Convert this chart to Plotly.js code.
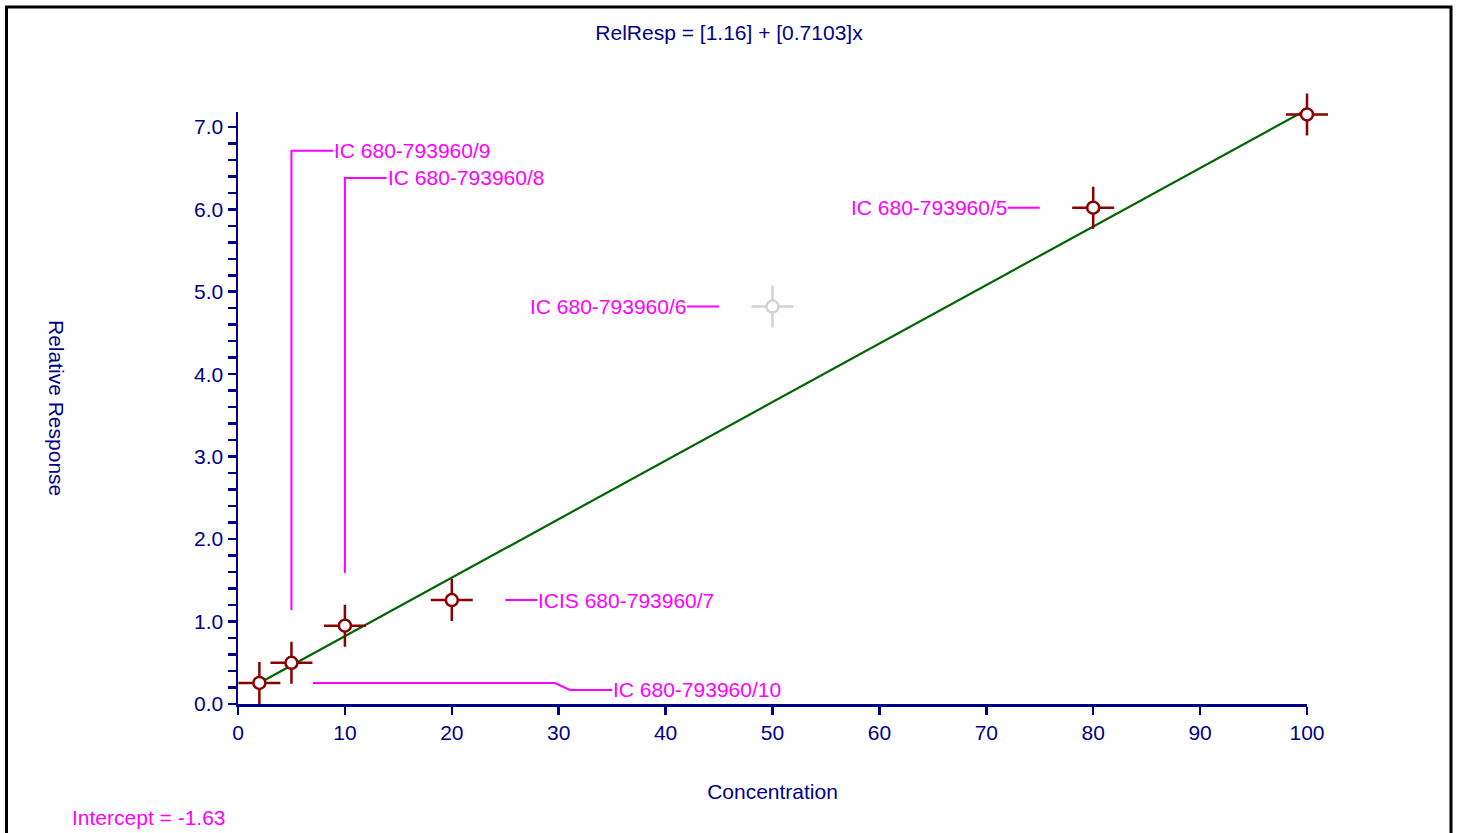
<!DOCTYPE html>
<html>
<head>
<meta charset="utf-8">
<script src="https://cdn.plot.ly/plotly-3.0.1.min.js"></script>
<style>
  html, body { margin: 0; padding: 0; background: #ffffff; }
  #chart { width: 1457px; height: 833px; }
</style>
</head>
<body>
<div id="chart"></div>
<script>
// ---- data ----
const concIncluded = [2, 5, 10, 20, 80, 100];
const respIncluded = [0.255, 0.50, 0.95, 1.26, 6.02, 7.15];
const concExcluded = [50];
const respExcluded = [4.82];

const fitX = [2, 100];
const fitY = [0.255, 7.21];

const labelTexts = ["IC 680-793960/9", "IC 680-793960/8", "IC 680-793960/5",
                    "IC 680-793960/6", "ICIS 680-793960/7", "IC 680-793960/10"];
const labelX = [8.9, 13.9, 72.0, 42.0, 28.0, 35.0];
const labelY = [6.71, 6.38, 6.02, 4.82, 1.26, 0.17];
const labelAnchor = ["left", "left", "right", "right", "left", "left"];

const leaderX = [[5, 5, 8.9], [10, 10, 13.9], [72, 75], [42, 45], [25, 28], [7, 29.65, 31.06, 35]];
const leaderY = [[1.14, 6.71, 6.71], [1.59, 6.38, 6.38], [6.02, 6.02], [4.82, 4.82], [1.26, 1.26], [0.255, 0.255, 0.17, 0.17]];

const titleText = "RelResp = [1.16] + [0.7103]x";
const xTitle = "Concentration";
const yTitle = "Relative Response";
const interceptText = "Intercept = -1.63";

// ---- styles ----
const NAVY = "#00008b";
const MAG = "#ff00ff";
const RED = "#8b0000";
const GREY = "#d3d3d3";
const FONT = "Liberation Sans, Arial, sans-serif";
const FS = 21;

const traces = [];

leaderX.forEach((xs, i) => {
  traces.push({
    x: xs, y: leaderY[i], type: "scatter", mode: "lines",
    line: { color: MAG, width: 2 }, hoverinfo: "skip", showlegend: false
  });
});

traces.push({
  x: fitX, y: fitY, type: "scatter", mode: "lines",
  line: { color: "#006400", width: 2.2 }, hoverinfo: "skip", showlegend: false
});

function crossTrace(xs, ys, color) {
  return {
    x: xs, y: ys, type: "scatter", mode: "markers",
    marker: { symbol: "cross-thin", size: 30, color: color, line: { color: color, width: 2.5 } },
    showlegend: false, cliponaxis: false, hoverinfo: "skip"
  };
}
function circleTrace(xs, ys, color) {
  return {
    x: xs, y: ys, type: "scatter", mode: "markers",
    marker: { symbol: "circle", size: 12, color: "#ffffff", line: { color: color, width: 2.5 } },
    showlegend: false, cliponaxis: false
  };
}

traces.push(crossTrace(concExcluded, respExcluded, GREY));
traces.push(circleTrace(concExcluded, respExcluded, GREY));
traces.push(crossTrace(concIncluded, respIncluded, RED));
traces.push(circleTrace(concIncluded, respIncluded, RED));

const L = 238, R = 1307, T = 112, B = 704;
const PW = R - L, PH = B - T;
const px = v => (v - L) / PW;
const py = v => (B - v) / PH;

const annotations = labelTexts.map((t, i) => ({
  x: labelX[i], y: labelY[i], xref: "x", yref: "y",
  text: t, showarrow: false, xanchor: labelAnchor[i], yanchor: "middle",
  font: { family: FONT, size: FS, color: MAG }, borderpad: 0
}));

annotations.push({
  x: px(57), y: py(408), xref: "paper", yref: "paper",
  text: yTitle, showarrow: false, textangle: 90, xanchor: "center", yanchor: "middle",
  font: { family: FONT, size: FS, color: NAVY }
});
annotations.push({
  x: px(71), y: py(817), xref: "paper", yref: "paper",
  text: interceptText, showarrow: false, xanchor: "left", yanchor: "middle",
  font: { family: FONT, size: FS, color: MAG }, borderpad: 0
});

const layout = {
  width: 1457, height: 833,
  margin: { l: L, r: 1457 - R, t: T, b: 833 - B, pad: 0 },
  paper_bgcolor: "#ffffff", plot_bgcolor: "#ffffff",
  font: { family: FONT, size: FS, color: NAVY },
  title: {
    text: titleText, xref: "paper", x: px(729), xanchor: "center",
    yref: "container", y: 1 - 33 / 833, yanchor: "middle",
    font: { family: FONT, size: FS, color: NAVY }
  },
  xaxis: {
    range: [0, 100], dtick: 10, tick0: 0, showgrid: false, zeroline: false,
    showline: true, linecolor: NAVY, linewidth: 2.5,
    ticks: "outside", ticklen: 8, tickwidth: 2.5, tickcolor: NAVY,
    tickfont: { family: FONT, size: FS, color: NAVY },
    title: { text: xTitle, standoff: 42, font: { family: FONT, size: FS, color: NAVY } },
    automargin: false
  },
  yaxis: {
    range: [0, 7.18], dtick: 1, tick0: 0, tickformat: ".1f", showgrid: false, zeroline: false,
    showline: true, linecolor: NAVY, linewidth: 2.5,
    ticks: "outside", ticklen: 8, tickwidth: 2.5, tickcolor: NAVY,
    minor: { dtick: 0.2, ticks: "outside", ticklen: 8, tickwidth: 2.5, tickcolor: NAVY, showgrid: false },
    tickfont: { family: FONT, size: FS, color: NAVY },
    automargin: false
  },
  shapes: [{
    type: "rect", xref: "paper", yref: "paper",
    x0: px(6.5), x1: px(1451), y0: py(845), y1: py(7),
    line: { color: "#000000", width: 3 }, fillcolor: "rgba(0,0,0,0)", layer: "below"
  }],
  annotations: annotations,
  showlegend: false
};

Plotly.newPlot("chart", traces, layout, { displayModeBar: false, staticPlot: true });
</script>
</body>
</html>
